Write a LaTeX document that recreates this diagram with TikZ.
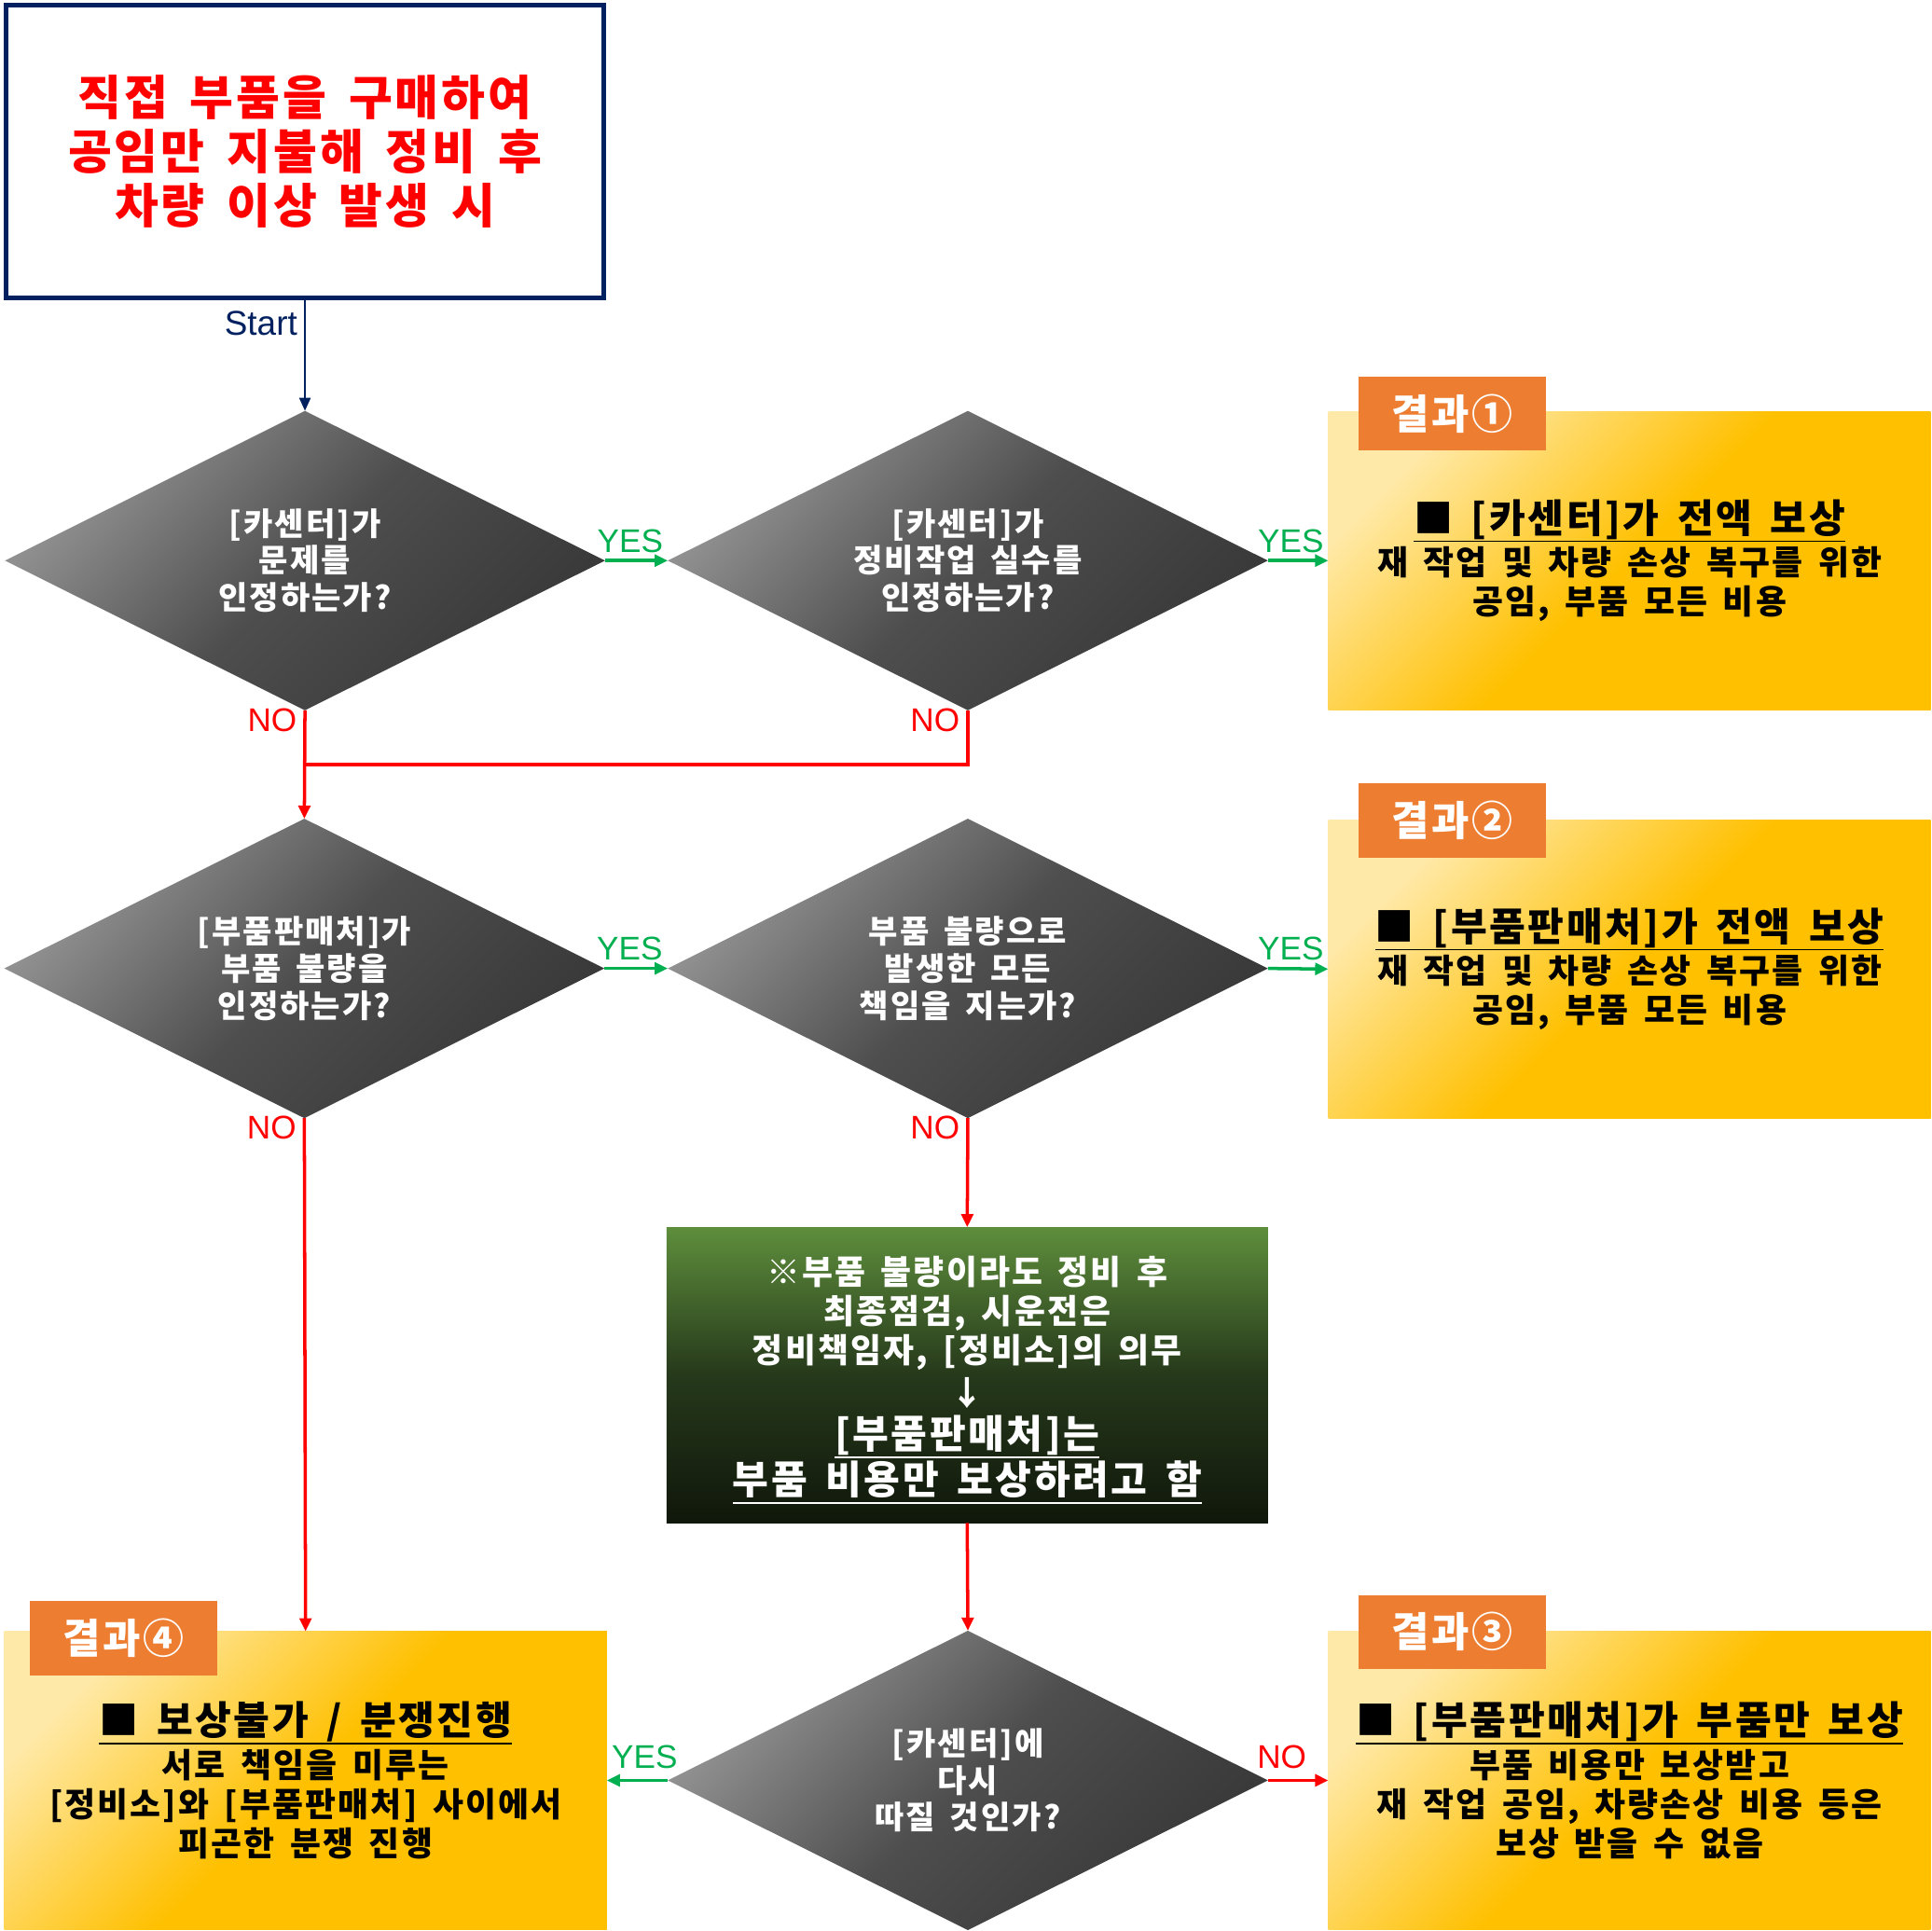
\documentclass[tikz,border=0pt]{standalone}
\usepackage{fontspec}
\setmainfont{Noto Sans CJK KR}[WordSpace=1.6, LetterSpace=6]
\newfontfamily\labfamily{Liberation Sans}
\usepackage{xcolor}
\usetikzlibrary{arrows.meta,positioning,shapes.geometric,calc}

\definecolor{navy}{HTML}{002060}
\definecolor{yesgreen}{HTML}{00B050}
\definecolor{tabor}{HTML}{ED7D31}
\definecolor{goldhi}{HTML}{FFE9A8}
\definecolor{gold}{HTML}{FFC000}
\definecolor{grayhi}{HTML}{959595}
\definecolor{graymid}{HTML}{4E4E4E}
\definecolor{graylo}{HTML}{383838}
\definecolor{greenhi}{HTML}{5E8E3C}
\definecolor{greenmid}{HTML}{26391B}
\definecolor{greenlo}{HTML}{10170B}

\newlength\pu
\setlength\pu{0.013214cm}
\newcommand\titlefont{\fontsize{14.5}{16.5}\selectfont\bfseries}
\newcommand\askfont{\fontsize{9.7}{11.3}\selectfont\bfseries}
\newcommand\resfont{\fontsize{10.2}{12}\selectfont\bfseries}
\newcommand\tabnumfont{\fontsize{12.5}{14}\selectfont\bfseries}
\newcommand\reshead[1]{{\fontsize{12}{14}\selectfont\raisebox{0pt}[\height][0pt]{\underline{\raisebox{0pt}[\height][1.3pt]{#1}}}}}

\begin{document}
\begin{tikzpicture}[
  x=0.013214cm, y=-0.013214cm,
  startbox/.style={draw=navy, line width=1.5pt, fill=white, minimum width=485\pu, minimum height=238\pu, text=red, font=\titlefont, align=center},
  ask/.style={diamond, shape aspect=2, minimum width=487\pu, minimum height=243\pu, inner sep=0pt, outer sep=0pt, top color=grayhi, bottom color=graylo, middle color=graymid, shading angle=45, text=white, font=\askfont, align=center},
  res/.style={rectangle, minimum width=489\pu, minimum height=242\pu, inner sep=0pt, outer sep=0pt, top color=goldhi, bottom color=gold, middle color=gold, shading angle=45, font=\resfont, align=center},
  note/.style={rectangle, minimum width=488\pu, minimum height=240\pu, inner sep=0pt, outer sep=0pt, top color=greenhi, bottom color=greenlo, middle color=greenmid, text=white, font=\resfont, align=center},
  tab/.style={fill=tabor, text=white, minimum width=152\pu, minimum height=60\pu, inner sep=0pt, font=\tabnumfont, anchor=north west},
  yesarr/.style={-{Triangle[length=4pt,width=3.6pt]}, yesgreen, line width=1pt},
  noarr/.style={-{Triangle[length=4pt,width=3.6pt]}, red, line width=1pt},
  yeslab/.style={text=yesgreen, font=\labfamily\fontsize{10}{12}\selectfont, inner sep=2pt},
  nolab/.style={text=red, font=\labfamily\fontsize{10}{12}\selectfont, inner sep=2pt}
]
\useasboundingbox (0,0) rectangle (1568,1567);

\node[startbox] (top) at (247.5,123) {직접 부품을 구매하여\\공임만 지불해 정비 후\\차량 이상 발생 시};

\node[ask] (q1) at (247.5,455) {[카센터]가\\문제를\\인정하는가?};
\node[ask] (q2) at (785.5,455) {[카센터]가\\정비작업 실수를\\인정하는가?};
\node[ask] (q3) at (247,786) {[부품판매처]가\\부품 불량을\\인정하는가?};
\node[ask] (q4) at (785.5,786) {부품 불량으로\\발생한 모든\\책임을 지는가?};
\node[note] (n1) at (785,1116) {※부품 불량이라도 정비 후\\최종점검, 시운전은\\정비책임자, [정비소]의 의무\\[1.2pt]↓\\[1pt]\reshead{[부품판매처]는}\\[2pt]\reshead{부품 비용만 보상하려고 함}};
\node[ask] (q5) at (785.5,1445) {[카센터]에\\다시\\따질 것인가?};

\node[res] (r1) at (1322.5,455) {\reshead{■ [카센터]가 전액 보상}\\[1pt]재 작업 및 차량 손상 복구를 위한\\공임, 부품 모든 비용};
\node[res] (r2) at (1322.5,786.5) {\reshead{■ [부품판매처]가 전액 보상}\\[1pt]재 작업 및 차량 손상 복구를 위한\\공임, 부품 모든 비용};
\node[res] (r3) at (1322.5,1445) {\reshead{■ [부품판매처]가 부품만 보상}\\[1pt]부품 비용만 보상받고\\재 작업 공임, 차량손상 비용 등은\\보상 받을 수 없음};
\node[res] (r4) at (248,1445) {\reshead{■ 보상불가 / 분쟁진행}\\[1pt]서로 책임을 미루는\\{}[정비소]와 [부품판매처] 사이에서\\피곤한 분쟁 진행};

\node[tab] (t1) at ([xshift=24\pu, yshift=29\pu]r1.north west) {결과①};
\node[tab] (t2) at ([xshift=24\pu, yshift=30\pu]r2.north west) {결과②};
\node[tab] (t3) at ([xshift=24\pu, yshift=30\pu]r3.north west) {결과③};
\node[tab] (t4) at ([xshift=20\pu, yshift=25\pu]r4.north west) {결과④};

\draw[-{Triangle[length=4pt,width=3.4pt]}, navy, line width=0.7pt] (top.south) -- node[pos=0.21, left, text=navy, font=\labfamily\fontsize{10.5}{12}\selectfont, inner sep=2pt] {Start} (q1.north);

\draw[yesarr] (q1.east) -- node[pos=0.4, above, yeslab] {YES} (q2.west);
\draw[yesarr] (q2.east) -- node[pos=0.38, above, yeslab] {YES} (r1.west);
\draw[yesarr] (q3.east) -- node[pos=0.4, above, yeslab] {YES} (q4.west);
\draw[yesarr] (q4.east) -- node[pos=0.38, above, yeslab] {YES} (r2.west);

\coordinate (m1) at ($(q1.south)!.5!(q3.north)$);
\draw[noarr] (q1.south) -- node[pos=0, anchor=north east, yshift=3pt, nolab] {NO} (q3.north);
\draw[red, line width=1pt] (q2.south) node[anchor=north east, yshift=3pt, nolab] {NO} |- (m1);

\draw[noarr] (q3.south) -- node[pos=0, anchor=north east, yshift=3pt, nolab] {NO} (r4.north);
\draw[noarr] (q4.south) -- node[pos=0, anchor=north east, yshift=3pt, nolab] {NO} (n1.north);
\draw[noarr] (n1.south) -- (q5.north);

\draw[yesarr] (q5.west) -- node[pos=0.38, above, yeslab, inner sep=3pt] {YES} (r4.east);
\draw[noarr] (q5.east) -- node[pos=0.23, above, nolab, inner sep=3pt] {NO} (r3.west);
\end{tikzpicture}
\end{document}
